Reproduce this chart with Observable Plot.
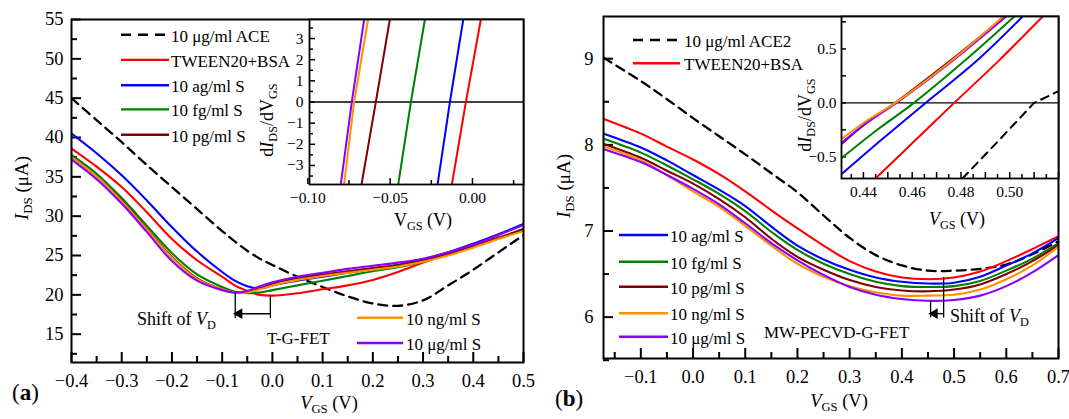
<!DOCTYPE html>
<html><head><meta charset="utf-8">
<script src="https://cdn.jsdelivr.net/npm/d3@7"></script>
<script src="https://cdn.jsdelivr.net/npm/@observablehq/plot@0.6"></script>
<style>
body{margin:0;background:#fff;}
#fig{position:relative;width:1069px;height:419px;overflow:hidden;font-family:"Liberation Serif","Times New Roman",serif;color:#000;background:#fff;}
#fig svg.ov{position:absolute;left:0;top:0;}
.t{position:absolute;white-space:nowrap;line-height:1;}
.t sub{font-size:0.68em;vertical-align:baseline;position:relative;top:0.32em;}
</style></head><body><div id="fig"></div>
<script>
// ---------------- Panel (a) main: I_DS vs V_GS ----------------
const vgsA = [-0.40,-0.35,-0.30,-0.25,-0.20,-0.15,-0.10,-0.075,-0.05,-0.025,0.00,0.05,0.10,0.15,0.20,0.25,0.30,0.35,0.40,0.45,0.50];
const aACE   = [45.0,42.2,39.4,36.5,33.7,30.9,28.1,26.8,25.6,24.6,23.8,22.3,21.0,19.8,18.9,18.6,19.3,21.2,23.2,25.4,27.6];
const aTween = [38.6,36.3,33.7,30.5,27.1,24.4,22.3,21.2,20.5,20.0,19.9,20.2,20.7,21.2,21.9,22.9,24.1,25.2,26.3,27.3,28.2];
const aAg    = [40.5,38.0,35.2,32.0,28.6,25.5,22.9,21.8,21.1,20.8,21.2,21.8,22.3,22.8,23.3,23.8,24.5,25.4,26.5,27.7,29.0];
const aFg    = [37.8,35.4,32.3,28.8,25.3,22.6,21.0,20.4,20.2,20.3,20.6,21.2,21.8,22.4,23.0,23.5,24.2,25.1,26.1,27.2,28.4];
const aPg    = [37.5,35.0,32.0,28.4,24.8,22.1,20.7,20.3,20.4,20.8,21.4,22.1,22.6,23.0,23.4,23.8,24.4,25.2,26.2,27.2,28.3];
const aNg    = [37.5,35.0,31.9,28.3,24.7,22.0,20.7,20.3,20.3,20.7,21.2,21.9,22.4,22.8,23.2,23.6,24.2,25.0,26.0,27.1,28.1];
const aUg    = [37.2,34.7,31.6,28.0,24.3,21.8,20.6,20.3,20.5,21.1,21.6,22.3,22.8,23.3,23.7,24.1,24.6,25.4,26.4,27.6,28.9];
const xTicksA = [-0.4,-0.3,-0.2,-0.1,0.0,0.1,0.2,0.3,0.4,0.5];
const yTicksA = [15,20,25,30,35,40,45,50,55];
// shift of V_D (a): Dirac points of TWEEN20+BSA and 10 ug/ml S
const shiftAx = [-0.074, -0.004];
const shiftAtop = [20.25, 19.85];
const shiftAlow = 17.0;
const shiftAarrowY = 17.6;

// ---------------- Panel (a) inset: dI/dV vs V_GS ----------------
const insAy = [-3.9, 0, 3.9];
const insA = {
  tween: [-0.0125,-0.0040,0.0051],
  ag:    [-0.0212,-0.0137,-0.0056],
  fg:    [-0.0451,-0.0374,-0.0289],
  pg:    [-0.0674,-0.0587,-0.0502],
  ng:    [-0.0780,-0.0719,-0.0634],
  ug:    [-0.0800,-0.0733,-0.0658]
};
const xTicksIA = [-0.10,-0.05,0.00];
const yTicksIA = [-3,-2,-1,0,1,2,3];

// ---------------- Panel (b) main ----------------
const vgsB = [-0.171,-0.10,-0.05,0.00,0.05,0.10,0.15,0.20,0.25,0.30,0.35,0.40,0.45,0.50,0.55,0.60,0.65,0.70];
const bACE2  = [9.01,8.74,8.53,8.31,8.10,7.89,7.67,7.45,7.18,6.92,6.72,6.60,6.54,6.54,6.56,6.61,6.73,6.88];
const bTween = [8.30,8.13,7.98,7.83,7.66,7.46,7.24,7.03,6.83,6.65,6.53,6.46,6.44,6.46,6.53,6.65,6.79,6.94];
const bAg    = [8.13,7.97,7.82,7.65,7.48,7.29,7.05,6.83,6.67,6.55,6.46,6.41,6.39,6.40,6.47,6.60,6.74,6.92];
const bFg    = [8.07,7.91,7.76,7.60,7.43,7.23,6.99,6.78,6.62,6.50,6.41,6.36,6.35,6.36,6.42,6.54,6.68,6.86];
const bPg    = [8.01,7.85,7.70,7.55,7.37,7.16,6.91,6.70,6.55,6.43,6.35,6.31,6.30,6.32,6.38,6.50,6.65,6.84];
const bNg    = [7.98,7.82,7.65,7.46,7.28,7.06,6.83,6.62,6.47,6.36,6.29,6.25,6.25,6.26,6.32,6.44,6.60,6.82];
const bUg    = [7.95,7.80,7.65,7.49,7.31,7.09,6.86,6.66,6.49,6.35,6.26,6.21,6.19,6.20,6.25,6.36,6.52,6.72];
const xTicksB = [-0.1,0.0,0.1,0.2,0.3,0.4,0.5,0.6,0.7];
const yTicksB = [6,7,8,9];
const shiftBx = [0.455, 0.480];
const shiftBtop = [6.19, 6.46];
const shiftBlow = 5.99;
const shiftBarrowY = 6.04;

// ---------------- Panel (b) inset ----------------
const insB = {
  ace2:  {x:[0.4806,0.4950,0.5100,0.5220], y:[-0.70,-0.36,0.00,0.13]},
  tween: {x:[0.4449,0.4620,0.4772,0.4950,0.5135], y:[-0.70,-0.33,0.00,0.38,0.80]},
  ag:    {x:[0.4300,0.4480,0.4655,0.4860,0.5053], y:[-0.68,-0.33,0.00,0.38,0.80]},
  fg:    {x:[0.4300,0.4450,0.4607,0.4810,0.5019], y:[-0.53,-0.26,0.00,0.38,0.80]},
  pg:    {x:[0.4300,0.4410,0.4530,0.4750,0.4980], y:[-0.40,-0.19,0.00,0.38,0.80]},
  ug:    {x:[0.4300,0.4410,0.4535,0.4760,0.4985], y:[-0.39,-0.19,0.00,0.38,0.80]},
  ng:    {x:[0.4300,0.4410,0.4530,0.4750,0.4973], y:[-0.35,-0.17,0.00,0.37,0.80]}
};
const xTicksIB = [0.44,0.46,0.48,0.50];
const yTicksIB = [-0.5,0.0,0.5];

const C = {ace:"#000000", tween:"#ff0000", ag:"#0000ff", fg:"#008000", pg:"#800000", ng:"#ff9000", ug:"#8a00ff"};
const FONT = '"Liberation Serif","Times New Roman",serif';
const W = 1069, H = 419;
const TICKFS = 18.5, INSFS = 15.5, LEGFS = 17;

function base(box, xdom, ydom, marks) {
  return Plot.plot({
    width: W, height: H,
    marginLeft: box.l, marginRight: W - box.r, marginTop: box.t, marginBottom: H - box.b,
    x: {domain: xdom, axis: null},
    y: {domain: ydom, axis: null},
    style: {background: "transparent", fontFamily: FONT, overflow: "visible"},
    marks
  });
}
function inTicksX(vals, len, plotH, sw) {
  return Plot.tickX(vals, {x: d => d, insetTop: plotH - len, stroke: "black", strokeWidth: sw});
}
function inTicksY(vals, len, plotW, sw) {
  return Plot.tickY(vals, {y: d => d, insetRight: plotW - len, stroke: "black", strokeWidth: sw});
}
function lineOf(xs, ys, color, opt = {}) {
  return Plot.line(xs.map((x, i) => ({x, y: ys[i]})), {x: "x", y: "y", stroke: color, strokeWidth: opt.sw || 2.1, strokeDasharray: opt.dash, curve: opt.curve || "catmull-rom", clip: true});
}

// ---- panel (a) main
const boxA = {l: 71, r: 523, t: 19, b: 362};
const pA = base(boxA, [-0.4, 0.5], [11.4, 55], [
  inTicksX(d3.range(-0.35, 0.5, 0.1), 6, boxA.b - boxA.t, 2),
  inTicksX(xTicksA, 10, boxA.b - boxA.t, 2),
  inTicksY(d3.range(12.5, 55, 5), 6, boxA.r - boxA.l, 2),
  inTicksY(yTicksA, 10, boxA.r - boxA.l, 2),
  Plot.axisX(xTicksA, {anchor: "bottom", tickSize: 0, tickPadding: 11, tickFormat: d3.format(".1f"), fontSize: TICKFS, label: null}),
  Plot.axisY(yTicksA, {anchor: "left", tickSize: 0, tickPadding: 8, tickFormat: d3.format("d"), fontSize: TICKFS, label: null}),
  lineOf(vgsA, aACE, C.ace, {dash: "9,6", sw: 2.3}),
  lineOf(vgsA, aTween, C.tween),
  lineOf(vgsA, aAg, C.ag),
  lineOf(vgsA, aFg, C.fg),
  lineOf(vgsA, aPg, C.pg),
  lineOf(vgsA, aNg, C.ng),
  lineOf(vgsA, aUg, C.ug),
  Plot.ruleX(shiftAx, {x: d => d, y1: shiftAlow, y2: (d, i) => shiftAtop[i], stroke: "black", strokeWidth: 1.3}),
  Plot.link([0], {x1: shiftAx[1], x2: shiftAx[0], y1: shiftAarrowY, y2: shiftAarrowY, stroke: "black", strokeWidth: 1.3}),
  Plot.dot([0], {x: shiftAx[0], y: shiftAarrowY, symbol: "triangle", r: 4, rotate: -90, fill: "black", stroke: "none", dx: 4}),
  Plot.frame({stroke: "black", strokeWidth: 2})
]);

// ---- panel (a) inset
const boxIA = {l: 309, r: 523, t: 19, b: 184};
const iaH = boxIA.b - boxIA.t, iaW = boxIA.r - boxIA.l;
const order = ["tween", "ag", "fg", "pg", "ng", "ug"];
const pIA = base(boxIA, [-0.099, 0.031], [-3.9, 3.9], [
  Plot.frame({fill: "white", stroke: "none"}),
  inTicksX(d3.range(-0.075, 0.031, 0.05), 4, iaH, 1.5),
  inTicksX(xTicksIA, 6, iaH, 1.5),
  inTicksY(d3.range(-3.5, 3.6, 1), 4, iaW, 1.5),
  inTicksY(yTicksIA, 6, iaW, 1.5),
  Plot.axisX(xTicksIA, {anchor: "bottom", tickSize: 0, tickPadding: 7, tickFormat: d3.format(".2f"), fontSize: INSFS, label: null}),
  Plot.axisY(yTicksIA, {anchor: "left", tickSize: 0, tickPadding: 6, tickFormat: d3.format("d"), fontSize: INSFS, label: null}),
  Plot.ruleY([0], {stroke: "black", strokeWidth: 1.3}),
  ...order.map(k => lineOf(insA[k], insAy, C[k], {curve: "linear", sw: 2})),
  Plot.frame({stroke: "black", strokeWidth: 1.8})
]);

// ---- panel (b) main
const boxB = {l: 603, r: 1058, t: 16, b: 358};
const pB = base(boxB, [-0.1715, 0.7], [5.52, 9.49], [
  inTicksX(d3.range(-0.15, 0.7, 0.1), 6, boxB.b - boxB.t, 2),
  inTicksX(xTicksB, 10, boxB.b - boxB.t, 2),
  inTicksY(d3.range(5.5, 9.5, 1), 6, boxB.r - boxB.l, 2),
  inTicksY(yTicksB, 10, boxB.r - boxB.l, 2),
  Plot.axisX(xTicksB, {anchor: "bottom", tickSize: 0, tickPadding: 11, tickFormat: d3.format(".1f"), fontSize: TICKFS, label: null}),
  Plot.axisY(yTicksB, {anchor: "left", tickSize: 0, tickPadding: 10, tickFormat: d3.format("d"), fontSize: TICKFS, label: null}),
  lineOf(vgsB, bACE2, C.ace, {dash: "9,6", sw: 2.3}),
  lineOf(vgsB, bTween, C.tween),
  lineOf(vgsB, bAg, C.ag),
  lineOf(vgsB, bFg, C.fg),
  lineOf(vgsB, bPg, C.pg),
  lineOf(vgsB, bNg, C.ng),
  lineOf(vgsB, bUg, C.ug),
  Plot.ruleX(shiftBx, {x: d => d, y1: shiftBlow, y2: (d, i) => shiftBtop[i], stroke: "black", strokeWidth: 1.3}),
  Plot.link([0], {x1: shiftBx[1], x2: shiftBx[0], y1: shiftBarrowY, y2: shiftBarrowY, stroke: "black", strokeWidth: 1.3}),
  Plot.dot([0], {x: shiftBx[0], y: shiftBarrowY, symbol: "triangle", r: 4, rotate: -90, fill: "black", stroke: "none", dx: 4}),
  Plot.frame({stroke: "black", strokeWidth: 2})
]);

// ---- panel (b) inset
const boxIB = {l: 841, r: 1058, t: 16, b: 178};
const ibH = boxIB.b - boxIB.t, ibW = boxIB.r - boxIB.l;
const pIB = base(boxIB, [0.431, 0.52], [-0.70, 0.80], [
  Plot.frame({fill: "white", stroke: "none"}),
  inTicksX(d3.range(0.435, 0.52, 0.01), 4, ibH, 1.5),
  inTicksX(d3.range(0.44, 0.52, 0.01), 6, ibH, 1.5),
  inTicksY(d3.range(-0.5, 0.8, 0.25), 5, ibW, 1.5),
  Plot.axisX(xTicksIB, {anchor: "bottom", tickSize: 0, tickPadding: 7, tickFormat: d3.format(".2f"), fontSize: INSFS, label: null}),
  Plot.axisY(yTicksIB, {anchor: "left", tickSize: 0, tickPadding: 5, tickFormat: d3.format(".1f"), fontSize: INSFS, label: null}),
  Plot.ruleY([0], {stroke: "black", strokeWidth: 1.3}),
  lineOf(insB.ace2.x, insB.ace2.y, C.ace, {dash: "8,6", sw: 2, curve: "linear"}),
  ...["tween", "ag", "fg", "pg", "ug", "ng"].map(k => lineOf(insB[k].x, insB[k].y, C[k], {sw: 2})),
  Plot.frame({stroke: "black", strokeWidth: 1.8})
]);

const fig = document.getElementById("fig");
for (const p of [pA, pIA, pB, pIB]) { p.classList.add("ov"); fig.appendChild(p); }

// ---- text helpers
function txt(html, x, y, o = {}) {
  const d = document.createElement("div");
  d.className = "t";
  d.innerHTML = html;
  d.style.left = x + "px";
  d.style.top = y + "px";
  d.style.fontSize = (o.size || 17) + "px";
  const tx = o.anchor === "middle" ? "-50%" : "0";
  d.style.transform = `translate(${tx},-50%)`;
  if (o.rotate) { d.style.transform = `translate(-50%,-50%) rotate(${o.rotate}deg)`; }
  fig.appendChild(d);
  return d;
}
function legend(items, x1, x2, tx, ys, size) {
  items.forEach((it, i) => {
    const s = document.createElementNS("http://www.w3.org/2000/svg", "svg");
    s.setAttribute("class", "ov");
    s.setAttribute("width", W); s.setAttribute("height", H);
    s.style.pointerEvents = "none";
    const l = document.createElementNS("http://www.w3.org/2000/svg", "line");
    l.setAttribute("x1", x1); l.setAttribute("x2", x2);
    l.setAttribute("y1", ys[i]); l.setAttribute("y2", ys[i]);
    l.setAttribute("stroke", it.color); l.setAttribute("stroke-width", 2.4);
    if (it.dash) l.setAttribute("stroke-dasharray", it.dash);
    s.appendChild(l);
    fig.appendChild(s);
    txt(it.label, tx, ys[i] + 1, {size});
  });
}

// panel (a) texts
legend([
  {label: "10 μg/ml ACE", color: C.ace, dash: "10,7"},
  {label: "TWEEN20+BSA", color: C.tween},
  {label: "10 ag/ml S", color: C.ag},
  {label: "10 fg/ml S", color: C.fg},
  {label: "10 pg/ml S", color: C.pg}
], 121, 169, 171, [34.7, 59.9, 85.2, 109.4, 134.7], LEGFS);
legend([
  {label: "10 ng/ml S", color: C.ng},
  {label: "10 μg/ml S", color: C.ug}
], 357, 403, 406, [317.8, 343], LEGFS);
txt("Shift of <i>V</i><sub>D</sub>", 137, 319, {size: 18});
txt("T-G-FET", 267, 338, {size: 17});
txt("<i>V</i><sub>GS</sub> (V)", 329, 403, {size: 18.5, anchor: "middle"});
txt("<i>I</i><sub>DS</sub> (μA)", 21, 188, {size: 19, rotate: -90});
txt("(<b>a</b>)", 12, 392, {size: 23});
txt("V<sub>GS</sub> (V)", 423, 220, {size: 18, anchor: "middle"});
txt("d<i>I</i><sub>DS</sub>/dV<sub>GS</sub>", 267, 120, {size: 18, rotate: -90});

// panel (b) texts
legend([
  {label: "10 μg/ml ACE2", color: C.ace, dash: "10,7"},
  {label: "TWEEN20+BSA", color: C.tween}
], 633, 680, 684, [40, 63.3], LEGFS);
legend([
  {label: "10 ag/ml S", color: C.ag},
  {label: "10 fg/ml S", color: C.fg},
  {label: "10 pg/ml S", color: C.pg},
  {label: "10 ng/ml S", color: C.ng},
  {label: "10 μg/ml S", color: C.ug}
], 619, 668, 670, [235, 261.7, 286.7, 313.3, 336.7], LEGFS);
txt("MW-PECVD-G-FET", 764, 332, {size: 17});
txt("Shift of <i>V</i><sub>D</sub>", 950, 316, {size: 18});
txt("<i>V</i><sub>GS</sub> (V)", 839, 401, {size: 18.5, anchor: "middle"});
txt("<i>I</i><sub>DS</sub> (μA)", 563, 186, {size: 19, rotate: -90});
txt("(<b>b</b>)", 555, 398, {size: 23});
txt("<i>V</i><sub>GS</sub> (V)", 957, 219, {size: 18, anchor: "middle"});
txt("d<i>I</i><sub>DS</sub>/dV<sub>GS</sub>", 805, 115, {size: 18, rotate: -90});
</script></body></html>
